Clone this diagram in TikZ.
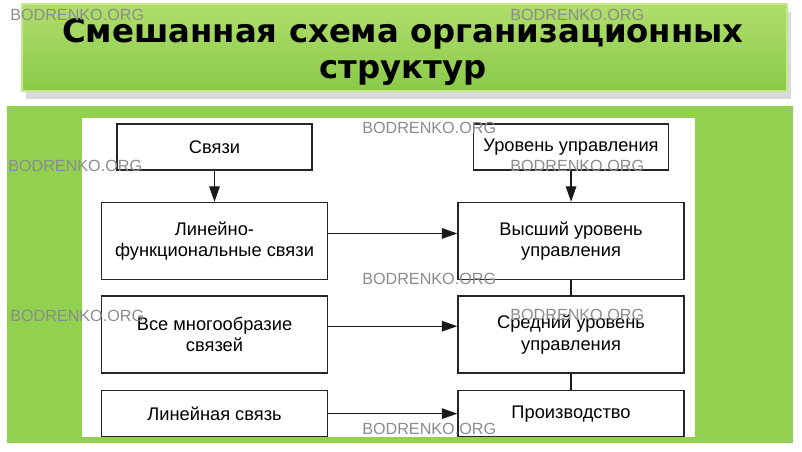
\documentclass[tikz,border=0pt]{standalone}
\usepackage{fontspec}
\setmainfont{Liberation Sans}
\newfontfamily\titlefont{DejaVu Sans}
\usetikzlibrary{arrows.meta,positioning,shadows}

\definecolor{panelgreen}{RGB}{146,208,80}
\definecolor{titletop}{RGB}{176,222,108}
\definecolor{titlebot}{RGB}{138,202,72}
\definecolor{titleedge}{RGB}{196,232,140}

\begin{document}
\begin{tikzpicture}[
  x=0.25mm, y=-0.25mm,
  font=\fontsize{13}{15}\selectfont,
  >={Triangle[length=11pt, width=7.5pt]},
  titlebar/.style={rectangle, top color=titletop, bottom color=titlebot,
                   draw=titleedge, line width=1.2pt,
                   minimum width=191.25mm, minimum height=21.75mm,
                   drop shadow={shadow xshift=1mm, shadow yshift=-2mm, fill=black!25, opacity=0.6}},
  titletext/.style={align=center, inner sep=0pt,
                    font=\titlefont\bfseries\fontsize{23}{25.6}\selectfont},
  box/.style={rectangle, draw=black!85, line width=1.1pt, fill=white,
              minimum width=56.5mm, minimum height=19.25mm, align=center},
  head/.style={box, minimum width=48.75mm, minimum height=11.5mm},
  low/.style={box, minimum height=11.5mm},
  link/.style={->, line width=0.9pt, draw=black!90},
  plainlink/.style={line width=0.9pt, draw=black!90},
  wmark/.style={anchor=base west, inner sep=0pt, text=black!45,
                font=\fontsize{11.5}{12}\selectfont},
]

\useasboundingbox (0,0) rectangle (802,451);

\fill[panelgreen] (7,106) rectangle (793,443);
\fill[white] (82,118) rectangle (695,437);

\node[titlebar] (bar) at (404.5,47.5) {};
\node[titletext] (title) at (403,52) {Смешанная схема организационных\\структур};

\node[head] (svyazi) at (214.5,147) {Связи};
\node[box, below=7.75mm of svyazi] (lf) {Линейно-\\функциональные связи};
\node[box, below=3.75mm of lf]      (vm) {Все многообразие\\связей};
\node[low, below=4mm of vm]         (ls) {Линейная связь};
\node[box, right=32.25mm of lf]     (vu) {Высший уровень\\управления};
\node[box, right=32.25mm of vm]     (su) {Средний уровень\\управления};
\node[low, right=32.25mm of ls]     (pr) {Производство};
\node[head, above=7.75mm of vu]     (uu) {Уровень управления};

\draw[link] (svyazi) -- (lf);
\draw[link] (uu) -- (vu);
\draw[link] ([yshift=1.9mm]lf.east) -- ([yshift=1.9mm]vu.west);
\draw[link] ([yshift=2.1mm]vm.east) -- ([yshift=2.1mm]su.west);
\draw[link] (ls) -- (pr);
\draw[plainlink] (vu) -- (su);
\draw[plainlink] (su) -- (pr);

\foreach \i/\x/\y in {1/10/20, 2/510/20, 3/362/133, 4/8/171, 5/510/171,
                      6/362/284, 7/10/321, 8/510/320, 9/362/434}
  \node[wmark] (wm\i) at (\x,\y) {BODRENKO.ORG};

\end{tikzpicture}
\end{document}
